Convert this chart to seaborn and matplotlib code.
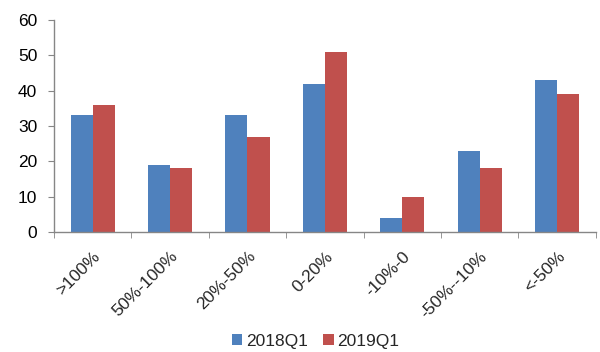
import matplotlib
matplotlib.use("Agg")
import matplotlib.pyplot as plt
import seaborn as sns
import pandas as pd
import numpy as np
from matplotlib.ticker import FixedLocator

categories = [">100%", "50%-100%", "20%-50%", "0-20%", "-10%-0", "-50%--10%", "<-50%"]
series_names = ["2018Q1", "2019Q1"]
values_2018 = [33, 19, 33, 42, 4, 23, 43]
values_2019 = [36, 18, 27, 51, 10, 18, 39]
y_ticks = [0, 10, 20, 30, 40, 50, 60]

df = pd.DataFrame({
    "category": categories * 2,
    "series": [series_names[0]] * len(categories) + [series_names[1]] * len(categories),
    "value": values_2018 + values_2019,
})

sns.set_style("white")
plt.rcParams["font.family"] = ["Liberation Sans", "DejaVu Sans"]

fig = plt.figure(figsize=(6.0, 3.52), dpi=100)
ax = fig.add_axes([0.09, 0.341, 0.903, 0.602])

sns.barplot(data=df, x="category", y="value", hue="series", order=categories,
            hue_order=series_names, palette=["#4F81BD", "#C0504D"],
            width=0.57, gap=0, saturation=1, ax=ax, linewidth=0)

ax.set_xlim(-0.5, len(categories) - 0.5)
ax.set_ylim(0, 60)
ax.set_yticks(y_ticks)
ax.set_xlabel("")
ax.set_ylabel("")

for s in ["top", "right"]:
    ax.spines[s].set_visible(False)
for s in ["left", "bottom"]:
    ax.spines[s].set_color("#868686")
    ax.spines[s].set_linewidth(1.0)

ax.tick_params(axis="y", which="major", direction="out", length=4, color="#868686",
               labelsize=12.5, labelcolor="#000000", left=True, pad=8)
ax.tick_params(axis="x", which="major", length=0, labelsize=12.5, pad=12)
ax.xaxis.set_minor_locator(FixedLocator(np.arange(-0.5, len(categories), 1.0)))
ax.tick_params(axis="x", which="minor", direction="out", length=4, color="#868686", bottom=True)

plt.setp(ax.get_xticklabels(), rotation=45, ha="right", rotation_mode="anchor")

ax.legend(loc="center", bbox_to_anchor=(0.526, 0.031), bbox_transform=fig.transFigure,
          ncol=2, frameon=False, fontsize=12.5, handlelength=0.6, handleheight=0.6,
          handletextpad=0.2, columnspacing=0.9, borderaxespad=0, borderpad=0)

fig.savefig("out.png", dpi=100)
